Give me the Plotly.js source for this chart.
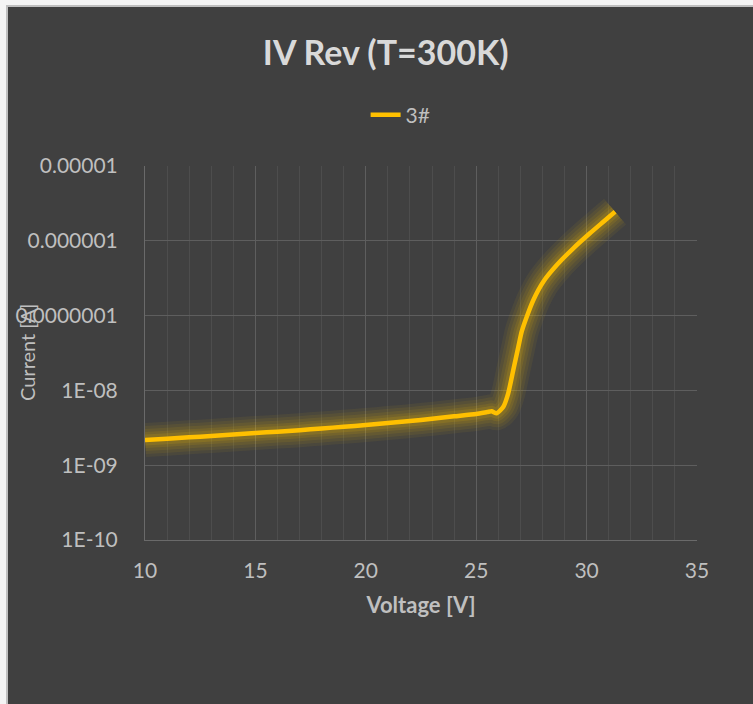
<!DOCTYPE html>
<html>
<head>
<meta charset="utf-8">
<script src="https://cdn.plot.ly/plotly-3.0.1.min.js"></script>
<style>
  html, body { margin: 0; padding: 0; background: #f4f4f4; width: 753px; height: 704px; overflow: hidden; }
  #frame { position: absolute; left: 6px; top: 5px; width: 747px; height: 699px; background: #bfbfbf; }
  #chart { position: absolute; left: 8px; top: 7px; width: 745px; height: 697px; }
</style>
</head>
<body>
<div id="frame"></div>
<div id="chart"></div>
<script>
// Data
const seriesName = "3#";
const voltage = [10, 11, 12, 13, 14, 15, 16, 17, 18, 19, 20, 21, 22, 23, 24, 25, 25.5, 25.7, 25.93,
                 26.23, 26.45, 26.68, 26.91, 27.06, 27.29, 27.59, 28.04, 28.65, 29.40, 30.15, 30.76, 31.29];
const current = [2.17e-9, 2.26e-9, 2.36e-9, 2.46e-9, 2.57e-9, 2.69e-9, 2.81e-9, 2.94e-9, 3.10e-9, 3.26e-9,
                 3.44e-9, 3.66e-9, 3.89e-9, 4.17e-9, 4.50e-9, 4.84e-9, 5.13e-9, 5.25e-9, 4.94e-9,
                 6.05e-9, 9.14e-9, 1.87e-8, 3.84e-8, 6.09e-8, 9.66e-8, 1.62e-7, 2.84e-7, 4.74e-7,
                 7.94e-7, 1.26e-6, 1.80e-6, 2.45e-6];
const yTickVals = [1e-10, 1e-9, 1e-8, 1e-7, 1e-6, 1e-5];
const yTickText = ["1E-10", "1E-09", "1E-08", "0.0000001", "0.000001", "0.00001"];
const xTickVals = [10, 15, 20, 25, 30, 35];

const FONT = "Lato, 'Open Sans', sans-serif";
const lineColor = "#FFC000";

// soft glow around the series line
const glowLayers = [
  {w: 34, a: 0.06},
  {w: 28, a: 0.07},
  {w: 22, a: 0.08},
  {w: 16, a: 0.10},
  {w: 11, a: 0.12}
];
const traces = glowLayers.map(g => ({
  x: voltage, y: current, type: "scatter", mode: "lines",
  line: {color: "rgba(255,200,0," + g.a + ")", width: g.w, shape: "spline", smoothing: 0.6},
  showlegend: false, hoverinfo: "skip"
}));
traces.push({
  x: voltage, y: current, type: "scatter", mode: "lines", name: seriesName,
  line: {color: lineColor, width: 4.5, shape: "spline", smoothing: 0.6}
});

const layout = {
  width: 745, height: 697,
  paper_bgcolor: "#404040", plot_bgcolor: "#404040",
  margin: {l: 137, r: 56, t: 159, b: 164},
  font: {family: FONT, color: "#bfbfbf", size: 21},
  title: {
    text: "<b>IV Rev (T=300K)</b>",
    font: {family: FONT, size: 34, color: "#d9d9d9"},
    x: 0.507, xanchor: "center", xref: "container",
    y: 1 - 46/697, yanchor: "middle", yref: "container"
  },
  showlegend: true,
  legend: {
    orientation: "h", xref: "container", yref: "container",
    x: 0.527, xanchor: "center", y: 1 - 108/697, yanchor: "middle",
    font: {family: FONT, size: 21, color: "#bfbfbf"},
    bgcolor: "rgba(0,0,0,0)"
  },
  xaxis: {
    range: [10, 35], tickvals: xTickVals, ticks: "",
    showgrid: true, gridcolor: "#5e5e5e", gridwidth: 1,
    minor: {dtick: 1, showgrid: true, gridcolor: "#4d4d4d", gridwidth: 1},
    showline: true, linecolor: "#6a6a6a", linewidth: 1, mirror: false,
    zeroline: false, ticklabelstandoff: 12,
    tickfont: {family: FONT, size: 21, color: "#bfbfbf"},
    title: {text: "<b>Voltage [V]</b>", font: {family: FONT, size: 22, color: "#bfbfbf"}, standoff: 16}
  },
  yaxis: {
    type: "log", range: [-10, -5], tickvals: yTickVals, ticktext: yTickText, ticks: "",
    showgrid: true, gridcolor: "#5e5e5e", gridwidth: 1,
    showline: true, linecolor: "#6a6a6a", linewidth: 1,
    zeroline: false, ticklabelstandoff: 22,
    tickfont: {family: FONT, size: 21, color: "#bfbfbf"}
  },
  annotations: [{
    text: "Current [A]", textangle: -90, showarrow: false,
    xref: "paper", yref: "paper",
    x: (27 - 145) / 552, y: 1 - (353 - 166) / 374,
    xanchor: "center", yanchor: "middle",
    font: {family: FONT, size: 20, color: "#bfbfbf"}
  }]
};

Plotly.newPlot("chart", traces, layout, {displayModeBar: false, staticPlot: true});
</script>
</body>
</html>
